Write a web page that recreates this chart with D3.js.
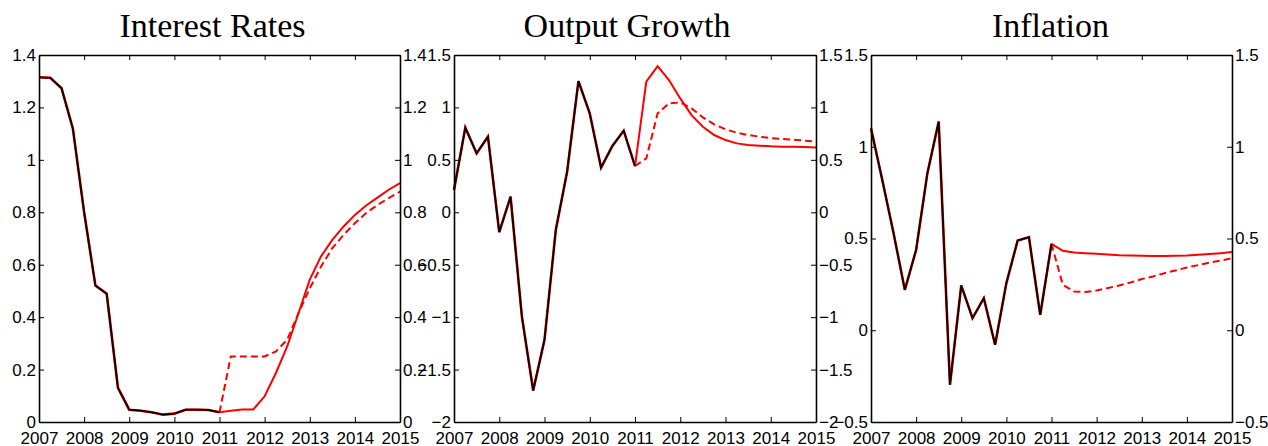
<!DOCTYPE html>
<html>
<head>
<meta charset="utf-8">
<script src="https://cdn.jsdelivr.net/npm/d3@7"></script>
<style>
  body { margin: 0; background: #fff; }
  svg { display: block; }
  .tick text { font-family: "Liberation Sans", Arial, sans-serif; font-size: 17px; fill: #000; }
  .title { font-family: "Liberation Serif", "Times New Roman", serif; font-size: 34px; fill: #000; }
</style>
</head>
<body>
<svg id="chart" width="1268" height="446"></svg>
<script>
// quarterly dates, 2007Q1 .. 2015Q1
const quarters = d3.range(0, 33).map(i => 2007 + i / 4);
const yearTicks = [2007, 2008, 2009, 2010, 2011, 2012, 2013, 2014, 2015];

// history 2007Q1..2011Q1 (17 points), forecasts 2011Q1..2015Q1 (17 points)
const rateHist = [1.315, 1.313, 1.273, 1.12, 0.80, 0.521, 0.489, 0.13, 0.047,
  0.043, 0.037, 0.028, 0.032, 0.047, 0.047, 0.046, 0.037];
const rateSolid = [0.037, 0.043, 0.048, 0.048, 0.098, 0.187, 0.288, 0.415, 0.543,
  0.632, 0.695, 0.746, 0.79, 0.826, 0.856, 0.886, 0.911];
const rateDashed = [0.037, 0.25, 0.25, 0.25, 0.25, 0.269, 0.314, 0.415, 0.51,
  0.593, 0.663, 0.714, 0.758, 0.797, 0.828, 0.854, 0.879];

const growthHist = [0.213, 0.807, 0.562, 0.721, -0.19, 0.149, -0.994, -1.70, -1.216,
  -0.168, 0.387, 1.251, 0.943, 0.426, 0.632, 0.778, 0.441];
const growthSolid = [0.441, 1.245, 1.394, 1.261, 1.086, 0.927, 0.816, 0.737, 0.689,
  0.657, 0.641, 0.635, 0.629, 0.626, 0.626, 0.622, 0.619];
const growthDashed = [0.441, 0.514, 0.943, 1.038, 1.048, 0.991, 0.905, 0.838, 0.791,
  0.759, 0.737, 0.721, 0.708, 0.699, 0.692, 0.683, 0.673];

const inflHist = [1.10, 0.819, 0.529, 0.22, 0.438, 0.856, 1.137, -0.297, 0.244,
  0.066, 0.175, -0.079, 0.257, 0.489, 0.507, 0.084, 0.471];
const inflSolid = [0.471, 0.433, 0.424, 0.42, 0.417, 0.413, 0.409, 0.407, 0.406,
  0.404, 0.404, 0.406, 0.407, 0.411, 0.415, 0.42, 0.426];
const inflDashed = [0.471, 0.248, 0.211, 0.208, 0.217, 0.23, 0.244, 0.26, 0.279,
  0.293, 0.311, 0.326, 0.342, 0.355, 0.369, 0.38, 0.393];

const titles = ["Interest Rates", "Output Growth", "Inflation"];
const yDomains = [[0, 1.4], [-2, 1.5], [-0.5, 1.5]];
const yTickVals = [
  [0, 0.2, 0.4, 0.6, 0.8, 1, 1.2, 1.4],
  [-2, -1.5, -1, -0.5, 0, 0.5, 1, 1.5],
  [-0.5, 0, 0.5, 1, 1.5]
];

var svg = d3.select("#chart");
const TOP = 55, BOTTOM = 422, TICK = 5;
const panelX = [[39, 400], [454, 816], [871, 1232]];
const titleShift = [-7, -8, -1];   // titles sit a bit left of the box centre
const series = [
  [rateHist, rateSolid, rateDashed],
  [growthHist, growthSolid, growthDashed],
  [inflHist, inflSolid, inflDashed]
];

function drawPanel(p) {
  var x = d3.scaleLinear().domain([2007, 2015]).range(panelX[p]);
  var y = d3.scaleLinear().domain(yDomains[p]).range([BOTTOM, TOP]);
  var g = svg.append("g");
  var hist = series[p][0], solid = series[p][1], dashed = series[p][2];
  var split = hist.length - 1;

  var line = d3.line().x(d => x(d[0])).y(d => y(d[1]));
  var pts = (vals, off) => vals.map((v, i) => [quarters[i + off], v]);

  // red underlay for history, then forecasts, then black history on top
  g.append("path").attr("d", line(pts(hist, 0)))
    .attr("fill", "none").attr("stroke", "#ff0000").attr("stroke-width", 2.6);
  g.append("path").attr("d", line(pts(dashed, split)))
    .attr("fill", "none").attr("stroke", "#ff0000").attr("stroke-width", 2)
    .attr("stroke-dasharray", "7,4");
  g.append("path").attr("d", line(pts(solid, split)))
    .attr("fill", "none").attr("stroke", "#ff0000").attr("stroke-width", 2);
  g.append("path").attr("d", line(pts(hist, 0)))
    .attr("fill", "none").attr("stroke", "#000").attr("stroke-width", 1.8);

  var fmt = d => d3.format("")(d).replace("-", "\u2212");

  // axes: bottom/left carry labels; top/right mirror the ticks
  g.append("g").attr("transform", `translate(0,${BOTTOM})`)
    .call(d3.axisBottom(x).tickValues(yearTicks).tickFormat(d3.format("d"))
      .tickSizeInner(-TICK).tickSizeOuter(0).tickPadding(10));
  g.append("g").attr("transform", `translate(0,${TOP})`)
    .call(d3.axisTop(x).tickValues(yearTicks).tickFormat("")
      .tickSizeInner(-TICK).tickSizeOuter(0));
  g.append("g").attr("transform", `translate(${panelX[p][0]},0)`)
    .call(d3.axisLeft(y).tickValues(yTickVals[p]).tickFormat(fmt)
      .tickSizeInner(-TICK).tickSizeOuter(0).tickPadding(3));
  g.append("g").attr("transform", `translate(${panelX[p][1]},0)`)
    .call(d3.axisRight(y).tickValues(yTickVals[p]).tickFormat(fmt)
      .tickSizeInner(-TICK).tickSizeOuter(0).tickPadding(3));

  g.selectAll(".domain").attr("stroke", "#000").attr("stroke-width", 1.6);
  g.selectAll(".tick line").attr("stroke", "#000").attr("stroke-width", 1);

  g.append("text").attr("class", "title")
    .attr("x", (panelX[p][0] + panelX[p][1]) / 2 + titleShift[p]).attr("y", 37)
    .attr("text-anchor", "middle").text(titles[p]);
}

[0, 1, 2].forEach(drawPanel);
</script>
</body>
</html>
